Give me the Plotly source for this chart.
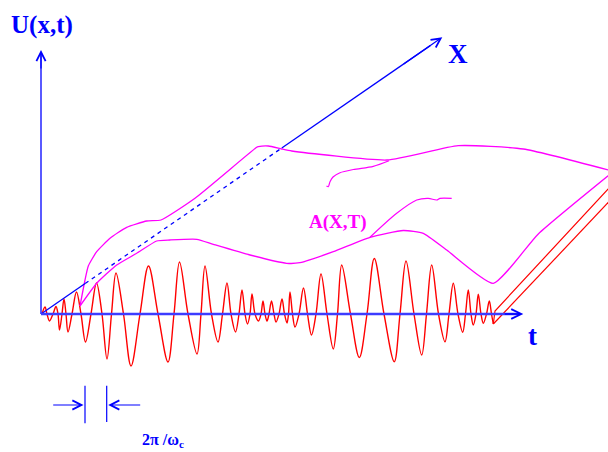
import plotly.graph_objects as go

# Carrier signal U(t) on the t axis: turning points (t, U) ...
peak_t = [1, 4, 8.5, 15, 18.5, 23, 27, 35.5, 44.5, 55.5, 66, 75, 90, 107.5, 127,
          138.5, 156, 164, 177, 186, 194.5, 201, 206.5, 211, 217.5, 222, 226,
          230.5, 235, 241, 246, 249, 254, 262.5, 270.5, 280, 292.3, 300.7, 318.3,
          333.3, 353.3, 365, 380.7, 390.7, 404, 412.3, 421.7, 427.3, 432.3, 437.3,
          442.3, 448.3, 452.3]
peak_u = [0, 7, -7, 7.5, -16, 15, -18, 22, -28, 31, -45, 41, -52, 48, -48,
          52, -40, 48, -28, 31, -18, 24, -10, 20, -7, 13, -7,
          13, -8, 15, -9, 22, -13, 26, -21, 40, -35, 49, -43.5,
          55.5, -47.7, 53, -41, 49, -27.7, 30.7, -18.3, 24, -11, 19.7,
          -9.3, 13, -10]
# ... and the times where it crosses the t axis
cross_t = [6, 12, 17, 21, 25, 31, 40, 50, 61, 70.5, 82.5, 99, 117, 133, 147,
           160, 170.5, 181.5, 190, 198, 204, 209, 214, 220, 224, 228, 233, 238,
           243.5, 247.5, 251.5, 258, 266.5, 275, 286, 296.5, 309.5, 326, 343,
           359, 373, 385.5, 397.5, 408, 417, 424.5, 430, 435, 440, 445.5, 450.5]

# Receding edges of the signal slab (projected)
edge1_t = [452.3, 454, 580]
edge1_u = [-10, 3, 139]
edge2_t = [452.3, 580]
edge2_u = [-10, 125]

# Envelope surface A(X,T): front profile
front_t = [39, 55.7, 75.7, 95.7, 115.7, 129, 155.7, 172.3, 209, 245.7, 259,
           292.3, 329, 362.3, 382.3, 405.7, 452.3, 497.3, 572.6]
front_u = [8, 30.7, 49, 60.7, 73, 74, 74.7, 69.7, 59, 50.7, 51.3,
           62.3, 76.7, 83.5, 80.7, 64, 30.7, 80, 142.6]

# Envelope surface: rear profile
rear_t = [39, 44, 47.3, 55.7, 69, 85.7, 105.7, 120, 154, 215.7, 217.3, 227.3,
          240.7, 250.7, 346, 417.3, 482.3, 572.6]
rear_u = [8, 34, 48, 62.3, 75.7, 86.7, 93, 94, 115.7, 166.7, 167.3, 168,
          165, 163, 154, 168.3, 165, 142.6]

# Inner contour lines on the surface
ridge1_t = [348, 332.3, 312.3, 299, 292, 289, 287.3, 285.5]
ridge1_u = [153.3, 147.7, 144.5, 141.3, 137, 132.3, 127.3, 128]
ridge2_t = [329, 355.7, 375.7, 387.3, 395.7, 399, 410.7]
ridge2_u = [76.7, 100.7, 114, 115.7, 114, 115.7, 115.7]

# Axes of the sketch
t_axis_end = 482.3
u_axis_end = 264
x_axis_end = (401.3, 276.7)
x_axis_dash = (0.11, 0.60)   # hidden stretch of the X axis (fractions of its length)

# Carrier period marker
period_left, period_right = 44, 65.7
period_level = -91

BLUE = "#0000ff"
RED = "#ff0000"
MAG = "#ff00ff"
SERIF = "Liberation Serif, Times New Roman, serif"

# Merge turning points and axis crossings into one ordered signal
signal = sorted(list(zip(peak_t, peak_u)) + [(c, 0) for c in cross_t])
sig_t = [p[0] for p in signal]
sig_u = [p[1] for p in signal]

fig = go.Figure()


def line(t, u, color, width=1.3, dash="solid", shape="linear", smooth=None):
    kw = dict(x=t, y=u, mode="lines", hoverinfo="skip", showlegend=False,
              line=dict(color=color, width=width, dash=dash, shape=shape))
    if smooth is not None:
        kw["line"]["smoothing"] = smooth
    fig.add_trace(go.Scatter(**kw))


# Signal
line(sig_t, sig_u, RED, 1.4, shape="spline", smooth=1.0)
line(edge1_t, edge1_u, RED, 1.2)
line(edge2_t, edge2_u, RED, 1.2)

# Envelope surface
line(front_t, front_u, MAG, 1.3, shape="spline", smooth=0.5)
line(rear_t, rear_u, MAG, 1.3, shape="spline", smooth=0.5)
line(ridge1_t, ridge1_u, MAG, 1.2, shape="spline", smooth=0.8)
line(ridge2_t, ridge2_u, MAG, 1.2, shape="spline", smooth=0.8)

# X axis: solid, hidden (dashed), solid
xe, ue = x_axis_end
f0, f1 = x_axis_dash
line([0, xe * f0], [0, ue * f0], BLUE, 1.3)
line([xe * f0, xe * f1], [ue * f0, ue * f1], BLUE, 1.3, dash="4px,4px")
line([xe * f1, xe * 0.97], [ue * f1, ue * 0.97], BLUE, 1.3)

# U and t axis shafts
line([0, 0], [0, u_axis_end - 4], BLUE, 1.3)
line([0, t_axis_end - 4], [0, 0], "#3c3cff", 2.4)

# Period ticks
line([period_left, period_left], [-71.7, -109.3], BLUE, 1.2)
line([period_right, period_right], [-71.7, -108], BLUE, 1.2)


def arrow(x0, y0, x1, y1, width=1.2, size=1.5):
    fig.add_annotation(x=x1, y=y1, ax=x0, ay=y0, xref="x", yref="y",
                       axref="x", ayref="y", text="", showarrow=True,
                       arrowhead=5, arrowsize=size, arrowwidth=width,
                       arrowcolor=BLUE)


arrow(0, u_axis_end - 20, 0, u_axis_end)
arrow(t_axis_end - 20, 0, t_axis_end, 0, width=1.3)
arrow(xe * 0.9, ue * 0.9, xe, ue)
arrow(10.7, period_level, period_left - 1.5, period_level)
arrow(100.7, period_level, period_right + 1.5, period_level)


def label(x, y, text, size, color):
    fig.add_annotation(x=x, y=y, xref="x", yref="y", text=text, showarrow=False,
                       font=dict(family=SERIF, size=size, color=color))


label(0.7, 289, "<b>U(x,t)</b>", 25, BLUE)
label(416.5, 260, "<b>X</b>", 27, BLUE)
label(491.5, -22, "<b>t</b>", 27, BLUE)
label(297, 92.5, "<b>A(X,T)</b>", 19, MAG)
label(122, -126, "<b>2π /ω<sub>c</sub></b>", 16, BLUE)

fig.update_layout(
    width=608, height=452,
    margin=dict(l=0, r=0, t=0, b=0),
    paper_bgcolor="white", plot_bgcolor="white",
    xaxis=dict(range=[-41, 567], visible=False, fixedrange=True),
    yaxis=dict(range=[-138, 314], visible=False, fixedrange=True),
)

fig.write_html("out.html")
